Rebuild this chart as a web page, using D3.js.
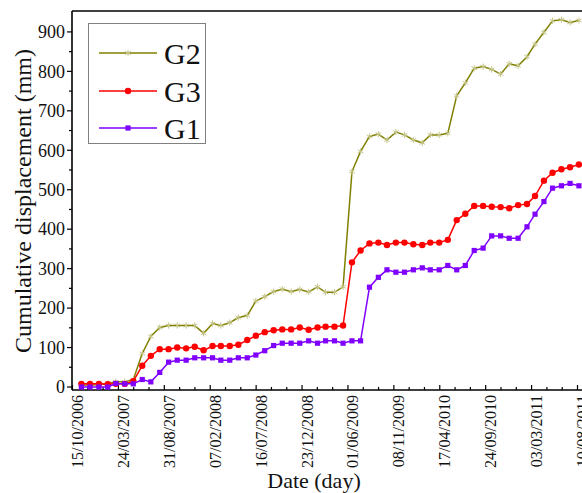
<!DOCTYPE html>
<html>
<head>
<meta charset="utf-8">
<script src="https://cdn.jsdelivr.net/npm/d3@7"></script>
<style>
  body { margin: 0; background: #fff; }
  svg { display: block; font-family: "Liberation Serif", "Times New Roman", serif; }
</style>
</head>
<body>
<div id="chart"></div>
<script>
// Monthly survey dates
const dates = [
  "15/11/2006", "15/12/2006",
  "15/01/2007", "15/02/2007", "15/03/2007", "15/04/2007", "15/05/2007", "15/06/2007",
  "15/07/2007", "15/08/2007", "15/09/2007", "15/10/2007", "15/11/2007", "15/12/2007",
  "15/01/2008", "15/02/2008", "15/03/2008", "15/04/2008", "15/05/2008", "15/06/2008",
  "15/07/2008", "15/08/2008", "15/09/2008", "15/10/2008", "15/11/2008", "15/12/2008",
  "15/01/2009", "15/02/2009", "15/03/2009", "15/04/2009", "15/05/2009", "15/06/2009",
  "15/07/2009", "15/08/2009", "15/09/2009", "15/10/2009", "15/11/2009", "15/12/2009",
  "15/01/2010", "15/02/2010", "15/03/2010", "15/04/2010", "15/05/2010", "15/06/2010",
  "15/07/2010", "15/08/2010", "15/09/2010", "15/10/2010", "15/11/2010", "15/12/2010",
  "15/01/2011", "15/02/2011", "15/03/2011", "15/04/2011", "15/05/2011", "15/06/2011",
  "15/07/2011", "15/08/2011"
];

// Cumulative displacement (mm)
const g2 = [5, 5, 6, 9, 13, 13, 19, 85, 128, 151,
  156, 156, 156, 156, 136, 161, 156, 163, 176, 181,
  218, 229, 242, 248, 242, 247, 241, 254, 240, 240,
  254, 546, 597, 635, 641, 626, 646, 639, 626, 619,
  639, 639, 643, 738, 771, 808, 812, 805, 793, 819,
  814, 837, 869, 899, 928, 931, 924, 929];
const g3 = [8, 8, 8, 7, 8, 8, 15, 54, 79, 96,
  96, 100, 98, 102, 93, 104, 104, 104, 107, 119,
  130, 139, 144, 146, 146, 151, 145, 151, 153, 153,
  156, 316, 346, 364, 366, 360, 366, 366, 362, 360,
  366, 366, 373, 423, 439, 459, 459, 457, 456, 453,
  461, 464, 484, 523, 543, 552, 557, 564];
const g1 = [0, 0, 0, 0, 9, 8, 8, 19, 13, 37,
  63, 68, 68, 74, 74, 74, 68, 68, 74, 74,
  81, 92, 105, 111, 111, 111, 117, 111, 117, 117,
  111, 117, 117, 253, 278, 297, 291, 291, 297, 302,
  297, 297, 308, 297, 308, 346, 352, 383, 383, 377,
  377, 406, 438, 470, 504, 510, 516, 510];

const xTickLabels = ["15/10/2006", "24/03/2007", "31/08/2007", "07/02/2008", "16/07/2008",
  "23/12/2008", "01/06/2009", "08/11/2009", "17/04/2010", "24/09/2010", "03/03/2011", "10/08/2011"];
const yTicks = [0, 100, 200, 300, 400, 500, 600, 700, 800, 900];

const seriesNames = ["G2", "G3", "G1"];

function renderChart() {
  const width = 582, height = 493;
  const parse = d3.utcParse("%d/%m/%Y");
  const xTicks = xTickLabels.map(parse);

  const svg = d3.select("#chart").append("svg")
    .attr("width", width)
    .attr("height", height);

  // Scales (plot area runs off the right edge, as in the original figure)
  const x = d3.scaleUtc()
    .domain([xTicks[0], xTicks[xTicks.length - 1]])
    .range([72.5, 577.5]);
  const y = d3.scaleLinear()
    .domain([-7.6, 953])
    .range([390, 11]);

  // Frame: left, bottom, top
  const frame = svg.append("g").attr("stroke", "#000").attr("stroke-width", 1.6).attr("fill", "none");
  frame.append("line").attr("x1", 72).attr("x2", 72).attr("y1", 11).attr("y2", 390);
  frame.append("line").attr("x1", 72).attr("x2", width + 10).attr("y1", 390).attr("y2", 390);
  frame.append("line").attr("x1", 72).attr("x2", width + 10).attr("y1", 11).attr("y2", 11);

  // Y ticks (outward) + minor ticks
  const ya = svg.append("g").attr("stroke", "#000").attr("stroke-width", 1.2);
  yTicks.forEach(v => {
    ya.append("line").attr("x1", 67).attr("x2", 72).attr("y1", y(v)).attr("y2", y(v));
    if (v + 50 < 900) {
      ya.append("line").attr("x1", 69).attr("x2", 72).attr("y1", y(v + 50)).attr("y2", y(v + 50));
    }
  });
  svg.append("g").selectAll("text")
    .data(yTicks)
    .enter().append("text")
    .attr("x", 65)
    .attr("y", d => y(d))
    .attr("dy", "0.35em")
    .attr("text-anchor", "end")
    .attr("font-size", "18px")
    .attr("fill", "#111")
    .text(d => d);

  // X ticks (inward) + minor ticks
  const xa = svg.append("g").attr("stroke", "#000").attr("stroke-width", 1.2);
  xTicks.forEach((t, i) => {
    const px = x(t);
    xa.append("line").attr("x1", px).attr("x2", px).attr("y1", 390).attr("y2", 385);
    const next = i < xTicks.length - 1 ? x(xTicks[i + 1]) : px + (px - x(xTicks[i - 1]));
    [1, 2].forEach(k => {
      const mx = px + (next - px) * k / 3;
      xa.append("line").attr("x1", mx).attr("x2", mx).attr("y1", 390).attr("y2", 387);
    });
  });
  svg.append("g").selectAll("text")
    .data(xTicks)
    .enter().append("text")
    .attr("transform", d => `translate(${x(d) + 10.5},395) rotate(-90)`)
    .attr("text-anchor", "end")
    .attr("font-size", "16px")
    .attr("fill", "#111")
    .text((d, i) => xTickLabels[i]);

  // Axis titles
  svg.append("text")
    .attr("x", 314)
    .attr("y", 488)
    .attr("text-anchor", "middle")
    .attr("font-size", "22px")
    .attr("fill", "#111")
    .text("Date (day)");
  svg.append("text")
    .attr("transform", "translate(31,201) rotate(-90)")
    .attr("text-anchor", "middle")
    .attr("font-size", "24px")
    .attr("fill", "#111")
    .text("Cumulative displacement (mm)");

  // Series
  const series = [
    { name: "G2", values: g2, line: "#808000", marker: "#c6c68c", shape: "star" },
    { name: "G3", values: g3, line: "#ff0000", marker: "#ff0000", shape: "circle" },
    { name: "G1", values: g1, line: "#8000ff", marker: "#8000ff", shape: "square" }
  ];

  const line = d3.line()
    .x(d => x(d.date))
    .y(d => y(d.v));

  function drawMarker(sel, s) {
    if (s.shape === "circle") {
      sel.append("circle").attr("r", 3.2).attr("fill", s.marker);
    } else if (s.shape === "square") {
      sel.append("rect").attr("x", -2.6).attr("y", -2.6).attr("width", 5.2).attr("height", 5.2)
        .attr("fill", s.marker);
    } else {
      sel.append("path").attr("d", d3.symbol(d3.symbolAsterisk, 28)())
        .attr("fill", "none").attr("stroke", s.marker).attr("stroke-width", 1);
    }
  }

  series.forEach(s => {
    const pts = dates.map((d, i) => ({ date: parse(d), v: s.values[i] }));
    const g = svg.append("g");
    g.append("path")
      .datum(pts)
      .attr("fill", "none")
      .attr("stroke", s.line)
      .attr("stroke-width", 1.5)
      .attr("d", line);
    g.selectAll("g.pt")
      .data(pts)
      .enter().append("g")
      .attr("class", "pt")
      .attr("transform", d => `translate(${x(d.date)},${y(d.v)})`)
      .each(function () { drawMarker(d3.select(this), s); });
  });

  // Legend
  const legend = svg.append("g");
  legend.append("rect")
    .attr("x", 88.5).attr("y", 23.5)
    .attr("width", 117).attr("height", 120)
    .attr("fill", "#fff")
    .attr("stroke", "#808080")
    .attr("stroke-width", 1);
  const legendY = [53, 91, 128];
  series.forEach((s, i) => {
    const row = legend.append("g").attr("transform", `translate(0,${legendY[i]})`);
    row.append("line").attr("x1", 99).attr("x2", 157).attr("y1", 0).attr("y2", 0)
      .attr("stroke", s.line).attr("stroke-width", 1.5);
    drawMarker(row.append("g").attr("transform", "translate(128,0)"), s);
    row.append("text")
      .attr("x", 164).attr("y", 10.5)
      .attr("font-size", "30px")
      .attr("fill", "#111")
      .text(s.name);
  });
}

renderChart();
</script>
</body>
</html>
